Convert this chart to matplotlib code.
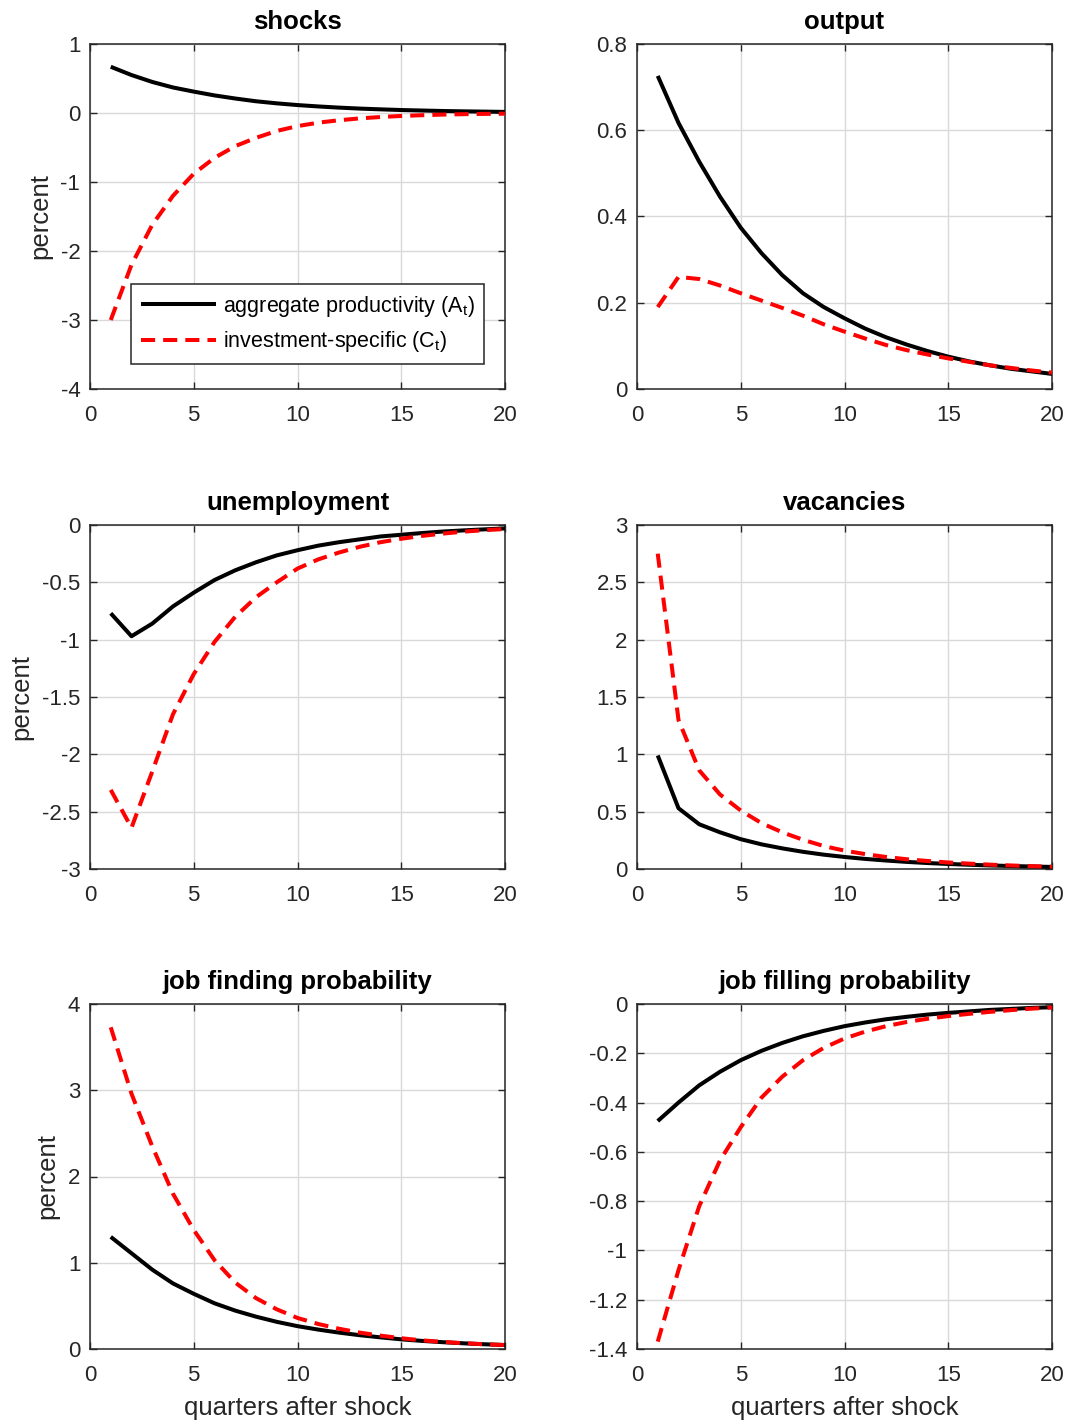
import matplotlib
matplotlib.use("Agg")
import matplotlib.pyplot as plt
from matplotlib.ticker import FuncFormatter
import numpy as np

plt.rcParams['font.family'] = ['Liberation Sans', 'DejaVu Sans']
plt.rcParams['axes.unicode_minus'] = False
plt.rcParams['mathtext.fontset'] = 'custom'
plt.rcParams['mathtext.rm'] = 'Liberation Sans'

quarters = list(range(1, 21))

shock_A = [0.67, 0.55, 0.45, 0.37, 0.31, 0.255, 0.21, 0.17, 0.14, 0.115,
           0.095, 0.078, 0.064, 0.053, 0.043, 0.036, 0.029, 0.024, 0.02, 0.016]
shock_C = [-3.0, -2.2, -1.62, -1.2, -0.88, -0.65, -0.48, -0.36, -0.26, -0.19,
           -0.14, -0.105, -0.078, -0.058, -0.043, -0.032, -0.023, -0.017, -0.013, -0.01]

output_A = [0.726, 0.617, 0.527, 0.446, 0.374, 0.315, 0.264, 0.222, 0.19, 0.164,
            0.14, 0.12, 0.103, 0.088, 0.075, 0.064, 0.055, 0.047, 0.041, 0.035]
output_C = [0.19, 0.26, 0.255, 0.24, 0.222, 0.205, 0.188, 0.17, 0.15, 0.133,
            0.117, 0.102, 0.09, 0.08, 0.071, 0.063, 0.055, 0.049, 0.043, 0.038]

unemp_A = [-0.77, -0.97, -0.86, -0.71, -0.59, -0.48, -0.395, -0.325, -0.265, -0.22,
           -0.18, -0.15, -0.125, -0.1, -0.085, -0.07, -0.057, -0.047, -0.038, -0.03]
unemp_C = [-2.31, -2.64, -2.15, -1.65, -1.3, -1.02, -0.8, -0.63, -0.5, -0.38,
           -0.3, -0.24, -0.19, -0.15, -0.12, -0.095, -0.075, -0.058, -0.045, -0.035]

vac_A = [0.99, 0.53, 0.39, 0.32, 0.26, 0.215, 0.18, 0.15, 0.125, 0.105,
         0.088, 0.074, 0.062, 0.052, 0.044, 0.037, 0.031, 0.026, 0.022, 0.018]
vac_C = [2.75, 1.3, 0.86, 0.65, 0.51, 0.4, 0.32, 0.255, 0.2, 0.16,
         0.13, 0.105, 0.085, 0.07, 0.057, 0.047, 0.038, 0.031, 0.025, 0.02]

find_A = [1.3, 1.11, 0.92, 0.76, 0.64, 0.53, 0.445, 0.375, 0.315, 0.265,
          0.225, 0.19, 0.16, 0.135, 0.112, 0.094, 0.079, 0.066, 0.055, 0.046]
find_C = [3.73, 2.96, 2.35, 1.8, 1.38, 1.03, 0.77, 0.59, 0.46, 0.36,
          0.29, 0.235, 0.19, 0.155, 0.125, 0.1, 0.082, 0.067, 0.055, 0.046]

fill_A = [-0.475, -0.40, -0.33, -0.275, -0.228, -0.19, -0.158, -0.131, -0.109, -0.09,
          -0.075, -0.062, -0.052, -0.043, -0.036, -0.03, -0.024, -0.02, -0.016, -0.013]
fill_C = [-1.37, -1.08, -0.82, -0.635, -0.5, -0.38, -0.295, -0.228, -0.178, -0.14,
          -0.112, -0.09, -0.073, -0.06, -0.049, -0.04, -0.032, -0.025, -0.019, -0.014]

titles = ["shocks", "output", "unemployment", "vacancies",
          "job finding probability", "job filling probability"]
series_A = [shock_A, output_A, unemp_A, vac_A, find_A, fill_A]
series_C = [shock_C, output_C, unemp_C, vac_C, find_C, fill_C]
ylims = [(-4, 1), (0, 0.8), (-3, 0), (0, 3), (0, 4), (-1.4, 0)]
yticks = [np.arange(-4, 1.01, 1), np.arange(0, 0.81, 0.2), np.arange(-3, 0.01, 0.5),
          np.arange(0, 3.01, 0.5), np.arange(0, 4.01, 1), np.arange(-1.4, 0.01, 0.2)]
xticks = [0, 5, 10, 15, 20]

legend_labels = [r"aggregate productivity (A$_\mathregular{t}$)",
                 r"investment-specific (C$_\mathregular{t}$)"]

W, H = 1069, 1422
fig = plt.figure(figsize=(W / 100, H / 100), dpi=100)

col_x = [90, 637]
row_y = [(44, 389), (525, 869), (1004, 1349)]
axw = 415

spine_col = '#262626'
fmt = FuncFormatter(lambda v, p: ('%g' % round(v, 6)) if abs(v) > 1e-9 else '0')

for i in range(6):
    r, c = divmod(i, 2)
    top, bot = row_y[r]
    ax = fig.add_axes([col_x[c] / W, 1 - bot / H, axw / W, (bot - top) / H])
    ax.plot(quarters, series_A[i], color='black', lw=2.9, solid_capstyle='butt',
            label=legend_labels[0], zorder=3)
    ax.plot(quarters, series_C[i], color='red', lw=2.9, linestyle=(0, (3.5, 2.0)),
            dash_capstyle='butt', label=legend_labels[1], zorder=4)
    ax.set_xlim(0, 20)
    ax.set_ylim(*ylims[i])
    ax.set_xticks(xticks)
    ax.set_yticks(yticks[i])
    ax.yaxis.set_major_formatter(fmt)
    ax.grid(True, color='#d9d9d9', lw=1.0)
    ax.set_axisbelow(True)
    ax.tick_params(direction='in', top=True, right=True, length=5, width=1,
                   colors=spine_col, labelsize=16, labelcolor='#262626')
    ax.tick_params(axis='x', pad=11.5)
    ax.tick_params(axis='y', pad=7)
    for s in ax.spines.values():
        s.set_color(spine_col)
        s.set_linewidth(1.1)
    ax.set_title(titles[i], fontsize=18.5, fontweight='bold', pad=10.5)
    if c == 0:
        ax.set_ylabel('percent', fontsize=18.5, color='#262626', labelpad=6)
    if r == 2:
        ax.set_xlabel('quarters after shock', fontsize=18.5, color='#262626', labelpad=7)
    if i == 0:
        leg = ax.legend(loc='lower left', bbox_to_anchor=(0.099, 0.072), borderaxespad=0,
                        fontsize=15.5, frameon=True, fancybox=False, framealpha=1,
                        edgecolor='#262626', handlelength=3.5, handletextpad=0.3,
                        labelspacing=0.5, borderpad=0.45)
        leg.get_frame().set_linewidth(1.1)

fig.savefig('out.png', dpi=100)
